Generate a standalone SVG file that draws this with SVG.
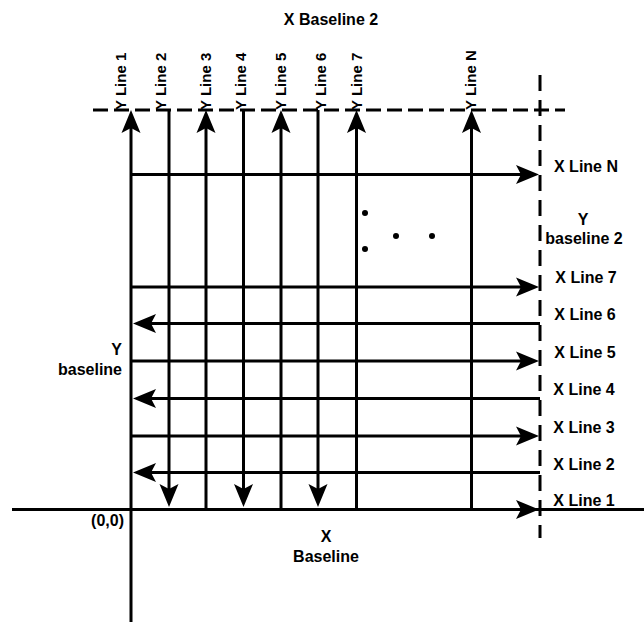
<svg xmlns="http://www.w3.org/2000/svg" width="644" height="625" viewBox="0 0 644 625">
<style>
  .ln { stroke: #000; stroke-width: 3; fill: none; }
  .arr { marker-end: url(#ah); }
  .dash { stroke: #000; stroke-width: 3; fill: none; }
  .t { font-family: "Liberation Sans", Arial, Helvetica, sans-serif; font-weight: bold; font-size: 16px; fill: #000; }
  .ty { font-size: 15px; }
  .dot { fill: #000; }
</style>
<defs>
  <marker id="ah" markerUnits="userSpaceOnUse" orient="auto" markerWidth="1" markerHeight="1" overflow="visible">
    <path d="M10,0 L-13,-9.5 L-8,0 L-13,9.5 Z" fill="#000"/>
  </marker>
</defs>
<rect width="644" height="625" fill="#fff"/>

<g id="baselines-dashed">
  <path class="dash" d="M93,110 H565" stroke-dasharray="15 6"/>
  <path class="dash" d="M540,75 V538" stroke-dasharray="16 9"/>
</g>

<g id="connectors">
  <!-- Y lines -->
  <path class="ln arr" d="M131,622 V120"/>
  <path class="ln arr" d="M169,110 V497"/>
  <path class="ln arr" d="M206,509.5 V120"/>
  <path class="ln arr" d="M243.5,110 V497"/>
  <path class="ln arr" d="M281,509.5 V120"/>
  <path class="ln arr" d="M318,110 V497"/>
  <path class="ln arr" d="M356.5,509.5 V120"/>
  <path class="ln arr" d="M471.5,509.5 V120"/>
  <!-- X lines -->
  <path class="ln arr" d="M131,174.5 H529"/>
  <path class="ln arr" d="M131,287 H529"/>
  <path class="ln arr" d="M540,323.5 H143"/>
  <path class="ln arr" d="M131,361 H529"/>
  <path class="ln arr" d="M540,398.5 H143"/>
  <path class="ln arr" d="M131,436 H529"/>
  <path class="ln arr" d="M540,472.5 H143"/>
  <path class="ln arr" d="M12,509.5 H529"/>
  <path class="ln" d="M529,509.5 H644"/>
</g>

<g id="dots">
  <circle class="dot" cx="365" cy="213" r="3"/>
  <circle class="dot" cx="365" cy="249" r="3"/>
  <circle class="dot" cx="396" cy="236" r="3"/>
  <circle class="dot" cx="432" cy="236" r="3"/>
</g>

<g id="label-x-baseline-2"><text class="t" x="331" y="25" text-anchor="middle">X Baseline 2</text></g>

<g id="label-y-lines">
  <text class="t ty" transform="translate(126,110) rotate(-90)">Y Line 1</text>
  <text class="t ty" transform="translate(165.5,110) rotate(-90)">Y Line 2</text>
  <text class="t ty" transform="translate(211,110) rotate(-90)">Y Line 3</text>
  <text class="t ty" transform="translate(245.5,110) rotate(-90)">Y Line 4</text>
  <text class="t ty" transform="translate(285.5,110) rotate(-90)">Y Line 5</text>
  <text class="t ty" transform="translate(325.5,110) rotate(-90)">Y Line 6</text>
  <text class="t ty" transform="translate(362,110) rotate(-90)">Y Line 7</text>
  <text class="t ty" transform="translate(475.5,110) rotate(-90)">Y Line N</text>
</g>

<g id="label-x-lines">
  <text class="t" x="586" y="172" text-anchor="middle">X Line N</text>
  <text class="t" x="586" y="283" text-anchor="middle">X Line 7</text>
  <text class="t" x="585" y="320" text-anchor="middle">X Line 6</text>
  <text class="t" x="585" y="358" text-anchor="middle">X Line 5</text>
  <text class="t" x="584" y="395" text-anchor="middle">X Line 4</text>
  <text class="t" x="584" y="433" text-anchor="middle">X Line 3</text>
  <text class="t" x="584" y="470" text-anchor="middle">X Line 2</text>
  <text class="t" x="584" y="506" text-anchor="middle">X Line 1</text>
</g>

<g id="label-y-baseline-2">
  <text class="t" x="583" y="225" text-anchor="middle">Y</text>
  <text class="t" x="584" y="244" text-anchor="middle">baseline 2</text>
</g>

<g id="label-y-baseline">
  <text class="t" x="122" y="355" text-anchor="end">Y</text>
  <text class="t" x="122" y="375" text-anchor="end">baseline</text>
</g>

<g id="label-origin"><text class="t" x="124" y="526" text-anchor="end">(0,0)</text></g>

<g id="label-x-baseline">
  <text class="t" x="326" y="542" text-anchor="middle">X</text>
  <text class="t" x="326" y="562" text-anchor="middle">Baseline</text>
</g>
</svg>
